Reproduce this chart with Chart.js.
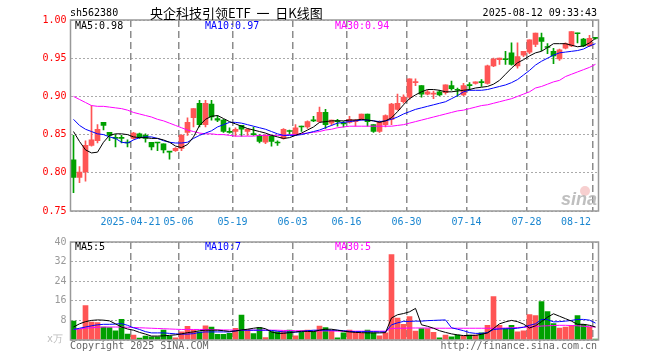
<!DOCTYPE html>
<html>
<head>
<meta charset="utf-8">
<script src="https://cdn.jsdelivr.net/npm/chart.js@4.4.1/dist/chart.umd.min.js"></script>
<style>
  html, body { margin: 0; padding: 0; background: #fff; }
  #wrap { position: relative; width: 660px; height: 360px; }
  canvas { position: absolute; left: 0; }
</style>
</head>
<body>
<div id="wrap">
  <canvas id="kline" width="660" height="232" style="top:0"></canvas>
  <canvas id="vol" width="660" height="128" style="top:232px"></canvas>
</div>
<script>
// trading days shown (2025)
const dates = [
  "04-07","04-08","04-09","04-10","04-11","04-14","04-15","04-16","04-17","04-18",
  "04-21","04-22","04-23","04-24","04-25","04-28","04-29","04-30",
  "05-06","05-07","05-08","05-09","05-12","05-13","05-14","05-15","05-16",
  "05-19","05-20","05-21","05-22","05-23","05-26","05-27","05-28","05-29","05-30",
  "06-03","06-04","06-05","06-06","06-09","06-10","06-11","06-12","06-13",
  "06-16","06-17","06-18","06-19","06-20","06-23","06-24","06-25","06-26","06-27",
  "06-30","07-01","07-02","07-03","07-04","07-07","07-08","07-09","07-10","07-11",
  "07-14","07-15","07-16","07-17","07-18","07-21","07-22","07-23","07-24","07-25",
  "07-28","07-29","07-30","07-31","08-01","08-04","08-05","08-06","08-07","08-08","08-11",
  "08-12"
];

const open = [
  0.817,0.794,0.801,0.836,0.842,0.866,0.853,0.846,0.846,0.840,
  0.845,0.851,0.849,0.840,0.840,0.838,0.828,0.829,0.832,0.853,
  0.872,0.891,0.863,0.890,0.871,0.869,0.854,0.854,0.862,0.854,
  0.851,0.849,0.840,0.848,0.840,0.845,0.855,0.850,0.861,0.860,
  0.869,0.867,0.879,0.865,0.868,0.865,0.866,0.867,0.870,0.877,
  0.863,0.854,0.863,0.870,0.883,0.893,0.899,0.918,0.914,0.903,
  0.903,0.906,0.905,0.914,0.909,0.902,0.915,0.917,0.919,0.917,
  0.940,0.948,0.949,0.957,0.940,0.954,0.958,0.968,0.977,0.965,
  0.959,0.949,0.963,0.966,0.983,0.975,0.966,0.976
];
const high = [
  0.849,0.808,0.842,0.888,0.863,0.866,0.853,0.850,0.849,0.843,
  0.853,0.852,0.851,0.840,0.840,0.838,0.828,0.833,0.850,0.872,
  0.884,0.895,0.895,0.895,0.875,0.870,0.859,0.859,0.862,0.858,
  0.860,0.850,0.850,0.849,0.842,0.858,0.856,0.863,0.861,0.868,
  0.874,0.886,0.883,0.869,0.870,0.867,0.874,0.870,0.877,0.877,
  0.863,0.868,0.876,0.891,0.903,0.902,0.923,0.923,0.914,0.908,
  0.907,0.908,0.915,0.920,0.911,0.917,0.918,0.919,0.922,0.941,
  0.950,0.950,0.959,0.970,0.970,0.959,0.974,0.983,0.983,0.969,
  0.963,0.962,0.970,0.985,0.983,0.976,0.980,0.977
];
const low = [
  0.774,0.787,0.789,0.835,0.839,0.856,0.842,0.834,0.839,0.834,
  0.844,0.845,0.840,0.830,0.829,0.826,0.818,0.828,0.829,0.849,
  0.860,0.860,0.860,0.869,0.867,0.853,0.852,0.848,0.848,0.849,
  0.849,0.839,0.838,0.835,0.836,0.844,0.850,0.849,0.854,0.858,
  0.867,0.866,0.858,0.862,0.861,0.860,0.865,0.861,0.869,0.861,
  0.853,0.853,0.860,0.863,0.882,0.891,0.896,0.914,0.899,0.902,
  0.897,0.901,0.903,0.908,0.900,0.901,0.908,0.916,0.913,0.916,
  0.939,0.942,0.942,0.941,0.937,0.952,0.956,0.965,0.960,0.956,
  0.943,0.947,0.962,0.965,0.970,0.965,0.965,0.975
];
const close = [
  0.794,0.801,0.836,0.843,0.857,0.862,0.849,0.845,0.845,0.839,
  0.852,0.847,0.845,0.834,0.839,0.830,0.827,0.832,0.849,0.866,
  0.884,0.863,0.891,0.873,0.869,0.854,0.853,0.857,0.857,0.857,
  0.850,0.841,0.849,0.841,0.839,0.857,0.854,0.859,0.860,0.867,
  0.868,0.879,0.863,0.869,0.867,0.864,0.870,0.869,0.877,0.867,
  0.854,0.866,0.875,0.890,0.891,0.899,0.923,0.919,0.903,0.906,
  0.904,0.902,0.915,0.910,0.908,0.914,0.914,0.919,0.918,0.940,
  0.949,0.950,0.948,0.942,0.952,0.959,0.974,0.983,0.972,0.964,
  0.953,0.961,0.969,0.985,0.982,0.966,0.976,0.976
];

// price moving averages
const ma5 = [
  0.854,0.841,0.830,0.826,0.827,0.840,0.849,0.851,0.851,0.850,
  0.847,0.846,0.846,0.845,0.845,0.843,0.840,0.835,0.833,0.837,
  0.847,0.862,0.870,0.874,0.875,0.871,0.867,0.864,0.861,0.858,
  0.856,0.854,0.852,0.849,0.847,0.845,0.846,0.849,0.852,0.856,
  0.860,0.866,0.867,0.868,0.868,0.868,0.869,0.869,0.870,0.869,
  0.868,0.866,0.868,0.872,0.880,0.889,0.897,0.902,0.906,0.909,
  0.909,0.908,0.906,0.906,0.907,0.908,0.909,0.911,0.912,0.913,
  0.916,0.921,0.929,0.937,0.944,0.948,0.953,0.957,0.959,0.964,
  0.969,0.969,0.969,0.967,0.965,0.966,0.970,0.976
];
const ma10 = [
  0.870,0.862,0.857,0.854,0.851,0.850,0.847,0.845,0.840,0.839,
  0.843,0.846,0.847,0.847,0.845,0.842,0.840,0.839,0.839,0.840,
  0.845,0.849,0.852,0.855,0.860,0.863,0.866,0.866,0.865,0.863,
  0.861,0.859,0.857,0.854,0.851,0.849,0.849,0.849,0.850,0.852,
  0.854,0.856,0.859,0.862,0.865,0.866,0.867,0.868,0.869,0.869,
  0.868,0.867,0.868,0.870,0.873,0.877,0.880,0.883,0.885,0.887,
  0.889,0.891,0.893,0.897,0.901,0.906,0.908,0.908,0.908,0.909,
  0.911,0.913,0.915,0.918,0.922,0.928,0.934,0.941,0.946,0.950,
  0.954,0.957,0.958,0.959,0.960,0.962,0.966,0.969
];
const ma30 = [
  0.900,0.896,0.892,0.888,0.887,0.887,0.886,0.885,0.884,0.882,
  0.879,0.877,0.875,0.873,0.870,0.868,0.865,0.862,0.859,0.856,
  0.854,0.852,0.851,0.851,0.850,0.850,0.849,0.848,0.848,0.848,
  0.848,0.849,0.849,0.849,0.849,0.849,0.850,0.850,0.851,0.852,
  0.853,0.854,0.856,0.857,0.859,0.860,0.861,0.861,0.861,0.861,
  0.861,0.861,0.861,0.861,0.862,0.863,0.865,0.867,0.869,0.871,
  0.873,0.875,0.877,0.879,0.881,0.882,0.884,0.886,0.888,0.889,
  0.891,0.893,0.895,0.897,0.900,0.903,0.906,0.911,0.913,0.916,
  0.919,0.921,0.926,0.929,0.932,0.935,0.938,0.942
];

// volume (万手) and its moving averages
const volume = [
  7.7,4.4,14.0,7.3,7.1,5.3,5.1,3.7,8.4,2.4,
  2.0,0.8,1.6,1.3,1.3,4.0,1.6,0.9,3.3,5.6,
  4.0,3.3,5.8,5.3,2.3,2.3,2.7,4.8,10.2,4.3,
  2.6,5.1,1.0,3.4,3.3,3.6,4.0,1.7,3.2,4.1,
  3.6,5.7,5.1,3.9,0.9,2.9,4.0,3.2,2.7,4.0,
  2.9,1.7,2.9,34.9,8.9,6.4,9.6,3.6,4.7,4.7,
  3.1,0.9,2.0,1.3,2.0,1.6,2.0,2.0,2.9,6.0,
  17.7,6.0,4.7,6.0,3.3,3.7,10.4,10.0,15.7,11.6,
  6.7,4.9,5.3,6.0,10.0,6.4,5.3,0.4
];
const vma5 = [
  5.3,6.6,7.5,8.0,8.2,8.1,7.8,6.6,5.3,4.5,
  4.0,3.1,2.4,1.6,1.6,1.7,1.9,2.1,2.5,3.0,
  3.3,3.8,4.0,4.0,4.0,3.8,3.5,3.7,4.1,4.4,
  4.8,5.1,4.6,3.3,2.7,2.7,3.0,3.3,3.6,3.5,
  3.4,4.0,4.4,4.4,4.0,3.6,3.3,3.1,3.0,2.9,
  2.9,2.9,3.0,9.0,10.3,10.8,11.5,12.9,6.2,5.6,
  4.8,3.8,3.1,2.5,2.1,1.8,1.9,1.9,2.3,2.9,
  4.7,6.6,7.4,8.0,7.5,6.5,4.9,5.8,7.5,9.3,
  10.7,9.7,8.7,7.7,6.4,6.4,6.0,5.3
];
const vma10 = [
  4.3,4.8,5.3,5.8,6.2,6.4,6.4,6.5,6.7,6.0,
  5.0,4.3,3.4,2.9,2.9,2.9,2.7,2.5,2.4,2.4,
  2.6,3.1,3.3,3.3,3.3,3.3,3.3,3.7,4.0,4.0,
  4.0,4.0,4.0,3.9,3.6,3.3,3.2,3.2,3.4,3.8,
  4.0,4.0,4.0,4.0,4.0,3.8,3.5,3.4,3.4,3.4,
  3.4,3.3,3.3,6.2,7.0,7.6,7.6,7.7,7.7,7.9,
  8.0,8.1,8.2,5.0,4.4,3.8,3.0,2.7,2.7,3.0,
  4.3,4.5,4.6,4.6,4.8,5.2,6.0,6.6,8.4,8.3,
  7.4,7.5,7.7,8.0,8.4,8.4,8.1,6.9
];
const vma30 = [
  4.3,4.5,4.8,5.0,5.2,5.3,5.3,5.3,5.3,5.2,
  5.1,5.0,4.9,4.8,4.7,4.6,4.5,4.4,4.3,4.3,
  4.3,4.3,4.3,4.2,4.2,4.1,4.1,4.0,4.0,4.0,
  4.0,4.0,4.0,4.0,4.0,3.9,3.9,3.8,3.8,3.8,
  3.7,3.7,3.7,3.7,3.6,3.6,3.6,3.6,3.6,3.6,
  3.6,3.6,3.6,4.7,4.8,4.8,4.9,4.9,4.9,4.9,
  4.8,4.8,4.8,4.8,4.8,4.8,4.8,4.8,4.8,4.8,
  4.8,4.8,4.9,5.0,5.1,5.2,5.3,5.5,5.7,5.8,
  5.9,6.0,6.0,5.9,5.8,5.6,5.4,5.3
];

// x axis date labels
const tickDates = ["04-21","05-06","05-19","06-03","06-16","06-30","07-14","07-28","08-12"];
const tickText  = ["2025-04-21","05-06","05-19","06-03","06-16","06-30","07-14","07-28","08-12"];

const UP = "#ff5555", DOWN = "#00a000";
const MONO = '"DejaVu Sans Mono", "Liberation Mono", monospace';
const tickIdx = tickDates.map(d => dates.indexOf(d));
const colors = dates.map((d, i) => close[i] > open[i] ? UP : DOWN);

function txt(ctx, s, x, y, color, font, align) {
  ctx.save();
  ctx.font = font || "10px " + MONO;
  ctx.fillStyle = color;
  ctx.textAlign = align || "left";
  ctx.textBaseline = "middle";
  ctx.fillText(s, x, y);
  ctx.restore();
}

// dashed date lines at the left edge of each labelled day
function drawDateLines(chart) {
  const ctx = chart.ctx, a = chart.chartArea, x = chart.scales.x;
  const half = (x.getPixelForValue(1) - x.getPixelForValue(0)) / 2;
  ctx.save();
  ctx.fillStyle = "#8c8c8c";
  for (const idx of tickIdx) {
    const px = Math.floor(x.getPixelForValue(idx) - half);
    for (let y = a.top; y < a.bottom; y += 11) {
      ctx.fillRect(px, y, 1.5, Math.min(7, a.bottom - y));
    }
  }
  ctx.restore();
}

const panel = {
  id: "panel",
  beforeDatasetsDraw(chart) {
    drawDateLines(chart);
  },
  afterDraw(chart) {
    const a = chart.chartArea, ctx = chart.ctx;
    ctx.save();
    ctx.strokeStyle = "#999";
    ctx.lineWidth = 1.5;
    ctx.strokeRect(a.left, a.top, a.right - a.left, a.bottom - a.top);
    ctx.restore();
  }
};

function xAxis(h) {
  return {
    type: "category",
    offset: true,
    grid: { display: false },
    border: { display: false },
    ticks: { display: false, autoSkip: false },
    afterFit: s => { s.height = h; }
  };
}

const line = (data, color) => ({
  type: "line", data, borderColor: color, borderWidth: 1,
  pointRadius: 0, tension: 0, order: 1
});

const kDecor = {
  id: "kDecor",
  afterDraw(chart) {
    const ctx = chart.ctx, x = chart.scales.x;
    txt(ctx, "sh562380", 70, 13, "#000");
    txt(ctx, "央企科技引领ETF  一  日K线图", 150, 13, "#000", '13px "Noto Sans CJK SC"');
    txt(ctx, "2025-08-12 09:33:43", 597, 13, "#000", null, "right");
    txt(ctx, "MA5:" + ma5[ma5.length - 1].toFixed(2), 75, 26, "#000");
    txt(ctx, "MA10:" + ma10[ma10.length - 1].toFixed(2), 205, 26, "#0000ff");
    txt(ctx, "MA30:" + ma30[ma30.length - 1].toFixed(2), 335, 26, "#ff00ff");
    ctx.save();
    ctx.font = "10px " + MONO;
    const half = (x.getPixelForValue(1) - x.getPixelForValue(0)) / 2;
    tickIdx.forEach((idx, k) => {
      const w = ctx.measureText(tickText[k]).width;
      let cx = x.getPixelForValue(idx) - half;
      if (cx + w / 2 > 591) cx = 591 - w / 2;
      txt(ctx, tickText[k], cx, 222, "#1a86d0", null, "center");
    });
    ctx.restore();
    // watermark
    ctx.save();
    ctx.globalAlpha = 0.5;
    ctx.fillStyle = "#f0a0a0";
    ctx.beginPath();
    ctx.arc(585, 191, 5, 0, Math.PI * 2);
    ctx.fill();
    ctx.restore();
    txt(ctx, "sina", 597, 200, "rgba(175,175,175,0.8)", 'italic bold 18px "Liberation Sans"', "right");
  }
};

new Chart(document.getElementById("kline"), {
  type: "bar",
  data: {
    labels: dates,
    datasets: [
      line(ma5, "#000000"),
      line(ma10, "#0000ff"),
      line(ma30, "#ff00ff"),
      {
        data: dates.map((d, i) => [open[i], close[i]]),
        backgroundColor: colors, barThickness: 5, grouped: false,
        minBarLength: 1, order: 4
      },
      {
        data: dates.map((d, i) => [low[i], high[i]]),
        backgroundColor: colors, barThickness: 1, grouped: false, order: 5
      }
    ]
  },
  options: {
    responsive: false,
    animation: false,
    events: [],
    layout: { padding: { left: 0, right: 61.5, top: 20, bottom: 0 } },
    plugins: { legend: { display: false }, tooltip: { enabled: false } },
    scales: {
      x: xAxis(21),
      y: {
        min: 0.75, max: 1.0,
        ticks: {
          stepSize: 0.05, color: "#ff0000", padding: 4,
          font: { family: MONO, size: 10 },
          callback: v => v.toFixed(2)
        },
        grid: { color: "#aaa", drawTicks: false },
        border: { display: false, dash: [2, 2] },
        afterFit: s => { s.width = 70.5; }
      }
    }
  },
  plugins: [panel, kDecor]
});

const vDecor = {
  id: "vDecor",
  afterDraw(chart) {
    const ctx = chart.ctx;
    txt(ctx, "MA5:" + Math.round(vma5[vma5.length - 1]), 75, 15, "#000");
    txt(ctx, "MA10:" + Math.round(vma10[vma10.length - 1]), 205, 15, "#0000ff");
    txt(ctx, "MA30:" + Math.round(vma30[vma30.length - 1]), 335, 15, "#ff00ff");
    txt(ctx, "x万", 47, 107, "#bbb", "10px " + MONO);
    txt(ctx, "Copyright 2025 SINA.COM", 70, 114, "#666");
    txt(ctx, "http://finance.sina.com.cn", 597, 114, "#666", null, "right");
  }
};

new Chart(document.getElementById("vol"), {
  type: "bar",
  data: {
    labels: dates,
    datasets: [
      line(vma5, "#000000"),
      line(vma10, "#0000ff"),
      line(vma30, "#ff00ff"),
      { data: volume, backgroundColor: colors, barThickness: 5, grouped: false, order: 4 }
    ]
  },
  options: {
    responsive: false,
    animation: false,
    events: [],
    layout: { padding: { left: 0, right: 61.5, top: 8, bottom: 0 } },
    plugins: { legend: { display: false }, tooltip: { enabled: false } },
    scales: {
      x: xAxis(20),
      y: {
        min: 0, max: 40,
        ticks: {
          stepSize: 8, color: "#999", padding: 4,
          font: { family: MONO, size: 10 },
          callback: v => v === 0 ? "" : v
        },
        grid: { color: "#aaa", drawTicks: false },
        border: { display: false, dash: [2, 2] },
        afterFit: s => { s.width = 70.5; }
      }
    }
  },
  plugins: [panel, vDecor]
});
</script>
</body>
</html>
